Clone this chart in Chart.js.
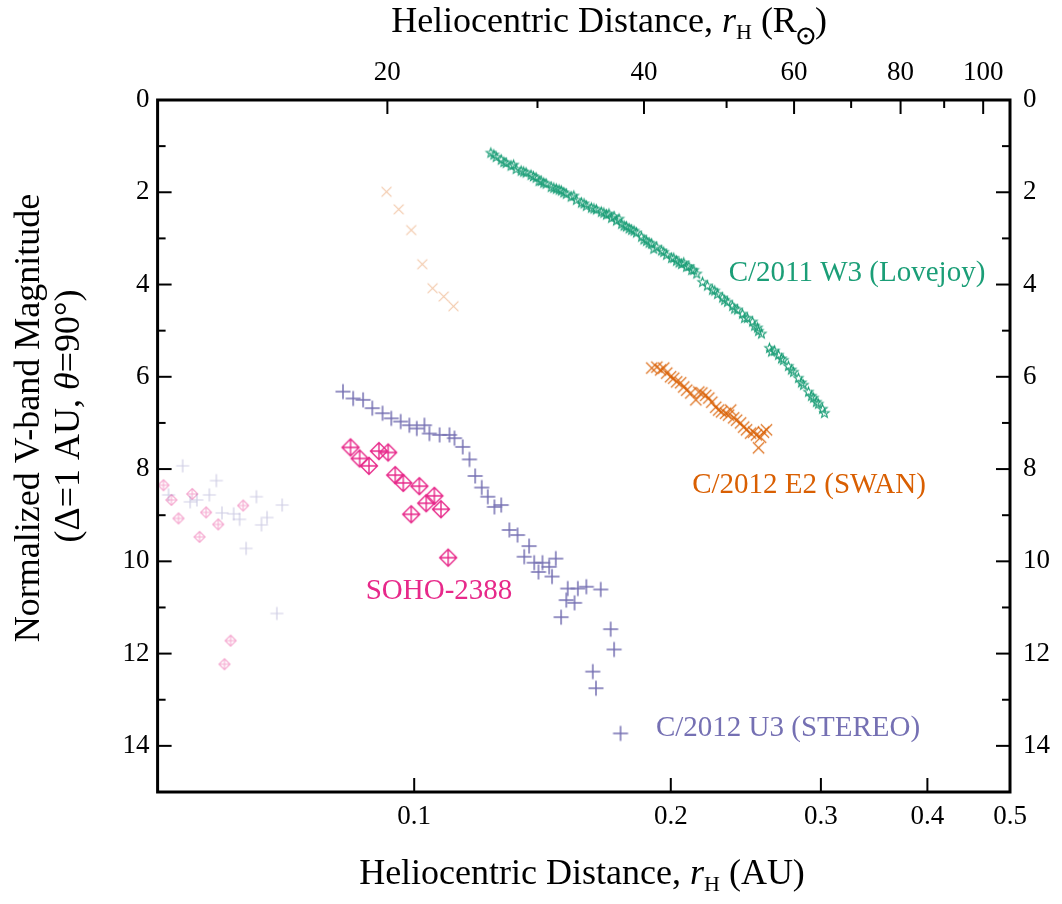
<!DOCTYPE html>
<html>
<head>
<meta charset="utf-8">
<script src="https://cdn.jsdelivr.net/npm/chart.js@4.4.1/dist/chart.umd.min.js"></script>
<style>
html,body{margin:0;padding:0;background:#ffffff;}
#wrap{width:1062px;height:904px;position:relative;}
</style>
</head>
<body>
<div id="wrap"><canvas id="c" width="1062" height="904"></canvas></div>
<script>
// ---------------- DATA ----------------
const RSUN_PER_AU = 215.03;
const xTicksAU = [0.1, 0.2, 0.3, 0.4, 0.5];
const topTicksRsun = [20, 40, 60, 80, 100];
const topMinorRsun = [30, 50, 70, 90];
const yTicks = [0, 2, 4, 6, 8, 10, 12, 14];
const yMinor = [1, 3, 5, 7, 9, 11, 13];

// C/2011 W3 (Lovejoy)
const lovejoyR = [0.1230,0.1248,0.1265,0.1282,0.1299,0.1317,0.1335,0.1353,0.1371,0.1390,0.1409,0.1428,0.1448,0.1468,0.1488,0.1508,0.1528,0.1550,0.1571,0.1592,0.1614,0.1636,0.1658,0.1681,0.1704,0.1727,0.1751,0.1774,0.1799,0.1823,0.1848,0.1873,0.1899,0.1925,0.1951,0.1977,0.2004,0.2031,0.2059,0.2087,0.2116,0.2145,0.2179,0.2208,0.2238,0.2269,0.2300,0.2331,0.2363,0.2395,0.2427,0.2460,0.2494,0.2528,0.2555,0.2611,0.2647,0.2675,0.2711,0.2748,0.2786,0.2823,0.2862,0.2901,0.2941,0.2980,0.3013,0.3029,
  0.1910,0.1962,0.2016,0.2071,0.2128,0.2252,0.2313,0.2376,0.2441,0.2508,0.2535,0.2625,0.2697,0.2770,0.2846,0.2924,0.2964,0.1401,0.1479,0.1582,0.1669,0.1763,0.1860,
  0.1240,0.1274,0.1308,0.1344,0.1380,0.1419,0.1458,0.1498,0.1539,0.1625,0.1692,0.1716,0.1739,0.1787,0.1811,0.1886,0.2045,0.2100];
const lovejoyMag = [1.15,1.24,1.30,1.37,1.43,1.50,1.54,1.58,1.63,1.69,1.76,1.82,1.89,1.93,1.97,2.04,2.10,2.17,2.23,2.30,2.34,2.38,2.43,2.49,2.56,2.62,2.69,2.75,2.82,2.88,2.97,3.06,3.12,3.19,3.27,3.36,3.43,3.49,3.56,3.62,3.69,3.77,3.95,4.03,4.12,4.21,4.29,4.38,4.47,4.55,4.64,4.73,4.81,4.94,5.07,5.38,5.44,5.53,5.64,5.77,5.90,6.03,6.18,6.33,6.46,6.59,6.70,6.79,
  3.23,3.30,3.43,3.53,3.69,4.14,4.34,4.53,4.73,4.90,5.01,5.46,5.61,5.85,6.13,6.42,6.55,1.76,1.95,2.25,2.45,2.73,3.03,
  1.19,1.35,1.41,1.56,1.66,1.80,1.91,2.01,2.08,2.36,2.47,2.53,2.58,2.79,2.84,3.10,3.53,3.61];

// C/2012 E2 (SWAN)
const swanR = [0.1900,0.1926,0.1946,0.1962,0.1978,0.1999,0.2016,0.2032,0.2054,0.2071,0.2088,0.2111,0.2140,0.2157,0.2175,0.2198,0.2216,0.2234,0.2258,0.2276,0.2294,0.2319,0.2338,0.2351,0.2370,0.2389,0.2415,0.2435,0.2454,0.2481,0.2501,0.2521,0.2549,0.2569,0.2590,0.2535];
const swanMag = [5.81,5.79,5.85,5.81,5.92,6.00,6.03,6.11,6.13,6.22,6.29,6.35,6.50,6.33,6.35,6.40,6.46,6.55,6.66,6.72,6.76,6.79,6.83,6.72,6.89,6.94,7.00,7.09,7.15,7.22,7.20,7.26,7.31,7.20,7.15,7.54];
// SWAN, lower-quality early points (faint)
const swanFaintR = [0.0928,0.0959,0.0992,0.1022,0.1051,0.1083,0.1112];
const swanFaintMag = [1.99,2.37,2.82,3.56,4.08,4.26,4.47];

// C/2012 U3 (STEREO)
const stereoR = [0.0825,0.0848,0.0871,0.0893,0.0918,0.0940,0.0964,0.0987,0.1007,0.1028,0.1042,0.1071,0.1100,0.1115,0.1140,0.1161,0.1179,0.1200,0.1220,0.1242,0.1265,0.1293,0.1322,0.1364,0.1346,0.1383,0.1414,0.1440,0.1466,0.1399,0.1451,0.1514,0.1556,0.1592,0.1655,0.1508,0.1542,0.1487,0.1700,0.1716,0.1620,0.1634,0.1746];
const stereoMag = [6.32,6.47,6.50,6.68,6.79,6.90,6.97,7.05,7.12,7.05,7.23,7.26,7.26,7.33,7.52,7.79,8.15,8.40,8.60,8.82,8.78,9.32,9.43,9.67,9.90,10.03,10.03,10.12,9.94,10.23,10.33,10.59,10.59,10.55,10.61,10.84,10.90,11.21,11.47,11.91,12.39,12.75,13.73];
// STEREO, lower-quality points (faint)
const stereoFaintR = [0.0535,0.0586,0.0575,0.0653,0.0700,0.0515,0.0546,0.0556,0.0595,0.0614,0.0624,0.0672,0.0662,0.0635,0.0690];
const stereoFaintMag = [7.93,8.25,8.56,8.60,8.78,8.56,8.71,8.67,8.95,8.97,9.09,9.05,9.21,9.72,11.13];

// SOHO-2388
const sohoR = [0.0842,0.0863,0.0885,0.0909,0.0932,0.0950,0.0971,0.1014,0.1056,0.1033,0.1075,0.0992,0.1096];
const sohoMag = [7.53,7.77,7.93,7.61,7.64,8.13,8.30,8.37,8.58,8.74,8.87,8.98,9.92];
// SOHO-2388, lower-quality points (faint)
const sohoFaintR = [0.0508,0.0519,0.0529,0.0549,0.0570,0.0589,0.0560,0.0630,0.0609,0.0599];
const sohoFaintMag = [8.35,8.67,9.07,8.54,8.94,9.20,9.47,8.79,11.72,12.23];

// ---------------- STYLE ----------------
const SERIF = '"Liberation Serif", "DejaVu Serif", serif';
const C_LOVEJOY = '#1b9e77', C_SWAN = '#d95f02', C_STEREO = '#7570b3', C_SOHO = '#e7298a';

function makeMarker(kind, r, color, lw) {
  const pad = Math.ceil(lw) + 1;
  const s = Math.ceil(2 * r) + 2 * pad + 1;
  const c = document.createElement('canvas');
  c.width = s; c.height = s;
  const g = c.getContext('2d');
  g.translate(s / 2, s / 2);
  g.strokeStyle = color; g.lineWidth = lw;
  g.beginPath();
  if (kind === 'plus') {
    g.moveTo(-r, 0); g.lineTo(r, 0); g.moveTo(0, -r); g.lineTo(0, r);
  } else if (kind === 'cross') {
    const d = r * Math.SQRT1_2;
    g.moveTo(-d, -d); g.lineTo(d, d); g.moveTo(-d, d); g.lineTo(d, -d);
  } else if (kind === 'star') {
    for (let i = 0; i < 10; i++) {
      const rr = (i % 2) ? r * 0.42 : r;
      const a = -Math.PI / 2 + i * Math.PI / 5;
      const px = rr * Math.cos(a), py = rr * Math.sin(a);
      if (i) g.lineTo(px, py); else g.moveTo(px, py);
    }
    g.closePath();
  } else if (kind === 'diamondPlus') {
    g.moveTo(0, -r); g.lineTo(r, 0); g.lineTo(0, r); g.lineTo(-r, 0); g.closePath();
    g.moveTo(-r, 0); g.lineTo(r, 0); g.moveTo(0, -r); g.lineTo(0, r);
  }
  g.stroke();
  return c;
}

function pts(xs, ys) { return xs.map((x, i) => ({ x: x, y: ys[i] })); }

function ds(label, xs, ys, marker) {
  return { label: label, data: pts(xs, ys), pointStyle: marker, pointRadius: 5, showLine: false,
           borderColor: 'transparent', backgroundColor: 'transparent' };
}

const datasets = [
  ds('SOHO-2388', sohoR, sohoMag, makeMarker('diamondPlus', 8.5, C_SOHO, 1.4)),
  ds('C/2012 U3 (STEREO)', stereoR, stereoMag, makeMarker('plus', 7.5, C_STEREO, 1.5)),
  ds('C/2012 E2 (SWAN)', swanR, swanMag, makeMarker('cross', 8, C_SWAN, 1.2)),
  ds('C/2011 W3 (Lovejoy)', lovejoyR, lovejoyMag, makeMarker('star', 4.9, C_LOVEJOY, 1.1)),
  ds('SWAN (faint)', swanFaintR, swanFaintMag, makeMarker('cross', 7, 'rgba(217,95,2,0.35)', 1.1)),
  ds('STEREO (faint)', stereoFaintR, stereoFaintMag, makeMarker('plus', 6.5, 'rgba(117,112,179,0.35)', 1.2)),
  ds('SOHO (faint)', sohoFaintR, sohoFaintMag, makeMarker('diamondPlus', 5.5, 'rgba(231,41,138,0.4)', 1.1))
];

const tickFont = { family: SERIF, size: 27 };

// draw text made of styled parts
function richWidth(ctx, parts) {
  let w = 0;
  parts.forEach(p => { ctx.font = p.font; w += p.w !== undefined ? p.w : ctx.measureText(p.t).width; });
  return w;
}
function drawRich(ctx, parts, x, y) {
  const w = richWidth(ctx, parts);
  let cx = x - w / 2;
  parts.forEach(p => {
    ctx.font = p.font;
    if (p.draw) { p.draw(ctx, cx, y); cx += p.w; return; }
    ctx.fillText(p.t, cx, y + (p.dy || 0));
    cx += ctx.measureText(p.t).width;
  });
}

const decorPlugin = {
  id: 'decor',
  afterDraw(chart) {
    const ctx = chart.ctx;
    const a = chart.chartArea;
    const xb = chart.scales.x, xt = chart.scales.xTop, yl = chart.scales.y;
    ctx.save();
    // frame
    ctx.strokeStyle = '#000';
    ctx.lineWidth = 3;
    ctx.strokeRect(a.left, a.top, a.right - a.left, a.bottom - a.top);
    // inward ticks
    ctx.lineWidth = 2;
    const line = (x1, y1, x2, y2) => { ctx.beginPath(); ctx.moveTo(x1, y1); ctx.lineTo(x2, y2); ctx.stroke(); };
    xTicksAU.forEach(v => { const p = xb.getPixelForValue(v); line(p, a.bottom, p, a.bottom - 14); });
    topTicksRsun.forEach(v => { const p = xt.getPixelForValue(v); line(p, a.top, p, a.top + 14); });
    topMinorRsun.forEach(v => { const p = xt.getPixelForValue(v); line(p, a.top, p, a.top + 8); });
    yTicks.forEach(v => { const p = yl.getPixelForValue(v); line(a.left, p, a.left + 14, p); line(a.right, p, a.right - 14, p); });
    yMinor.forEach(v => { const p = yl.getPixelForValue(v); line(a.left, p, a.left + 8, p); line(a.right, p, a.right - 8, p); });

    // axis titles
    ctx.fillStyle = '#000';
    ctx.textBaseline = 'alphabetic';
    ctx.textAlign = 'left';
    const F = '36px ' + SERIF, FI = 'italic 36px ' + SERIF, FS = '22px ' + SERIF;
    drawRich(ctx, [
      { t: 'Heliocentric Distance, ', font: F },
      { t: 'r', font: FI },
      { t: 'H', font: FS, dy: 7 },
      { t: ' (AU)', font: F }
    ], 582, 884);
    const sunW = 18;
    drawRich(ctx, [
      { t: 'Heliocentric Distance, ', font: F },
      { t: 'r', font: FI },
      { t: 'H', font: FS, dy: 7 },
      { t: ' (R', font: F },
      { font: F, w: sunW, draw: (g, x, y) => {
          g.save(); g.lineWidth = 2.2; g.strokeStyle = '#000';
          g.beginPath(); g.arc(x + sunW / 2, y + 4, 7.5, 0, Math.PI * 2); g.stroke();
          g.beginPath(); g.arc(x + sunW / 2, y + 4, 1.8, 0, Math.PI * 2); g.fill();
          g.restore(); } },
      { t: ')', font: F }
    ], 609, 32);

    // y title (rotated)
    ctx.save();
    ctx.translate(39, 418);
    ctx.rotate(-Math.PI / 2);
    drawRich(ctx, [{ t: 'Normalized V-band Magnitude', font: F }], 0, 0);
    ctx.restore();
    ctx.save();
    ctx.translate(79, 416);
    ctx.rotate(-Math.PI / 2);
    drawRich(ctx, [
      { t: '(\u0394=1 AU, ', font: F },
      { t: '\u03b8', font: FI },
      { t: '=90\u00b0)', font: F }
    ], 0, 0);
    ctx.restore();

    // series labels
    ctx.font = '29px ' + SERIF;
    ctx.textAlign = 'center';
    ctx.textBaseline = 'middle';
    ctx.fillStyle = C_LOVEJOY; ctx.fillText('C/2011 W3 (Lovejoy)', 857, 273);
    ctx.fillStyle = C_SWAN; ctx.fillText('C/2012 E2 (SWAN)', 809, 485);
    ctx.fillStyle = C_SOHO; ctx.fillText('SOHO-2388', 439, 591);
    ctx.fillStyle = C_STEREO; ctx.fillText('C/2012 U3 (STEREO)', 788, 728);
    ctx.restore();
  }
};

new Chart(document.getElementById('c'), {
  type: 'scatter',
  data: { datasets: datasets },
  options: {
    responsive: false,
    animation: false,
    devicePixelRatio: 1,
    events: [],
    layout: { padding: 0 },
    plugins: { legend: { display: false }, tooltip: { enabled: false } },
    scales: {
      x: {
        type: 'logarithmic', position: 'bottom', min: 0.05, max: 0.5,
        afterBuildTicks: s => { s.ticks = xTicksAU.map(v => ({ value: v })); },
        afterFit: s => { s.height = 112; },
        grid: { display: false, drawTicks: false }, border: { display: false },
        ticks: { font: tickFont, color: '#000', padding: 9, maxRotation: 0, minRotation: 0, autoSkip: false,
                 callback: v => String(v) }
      },
      xTop: {
        type: 'logarithmic', position: 'top', min: 0.05 * RSUN_PER_AU, max: 0.5 * RSUN_PER_AU,
        afterBuildTicks: s => { s.ticks = topTicksRsun.map(v => ({ value: v })); },
        afterFit: s => { s.height = 100; },
        grid: { display: false, drawTicks: false }, border: { display: false },
        ticks: { font: tickFont, color: '#000', padding: 11, maxRotation: 0, minRotation: 0, autoSkip: false,
                 callback: v => String(v) }
      },
      y: {
        type: 'linear', position: 'left', reverse: true, min: 0, max: 15,
        afterBuildTicks: s => { s.ticks = yTicks.map(v => ({ value: v })); },
        afterFit: s => { s.width = 157.6; },
        grid: { display: false, drawTicks: false }, border: { display: false },
        ticks: { font: tickFont, color: '#000', padding: 8, autoSkip: false, callback: v => String(v) }
      },
      yRight: {
        type: 'linear', position: 'right', reverse: true, min: 0, max: 15,
        afterBuildTicks: s => { s.ticks = yTicks.map(v => ({ value: v })); },
        afterFit: s => { s.width = 52; },
        grid: { display: false, drawTicks: false }, border: { display: false },
        ticks: { font: tickFont, color: '#000', padding: 13, autoSkip: false, callback: v => String(v) }
      }
    }
  },
  plugins: [decorPlugin]
});
</script>
</body>
</html>
